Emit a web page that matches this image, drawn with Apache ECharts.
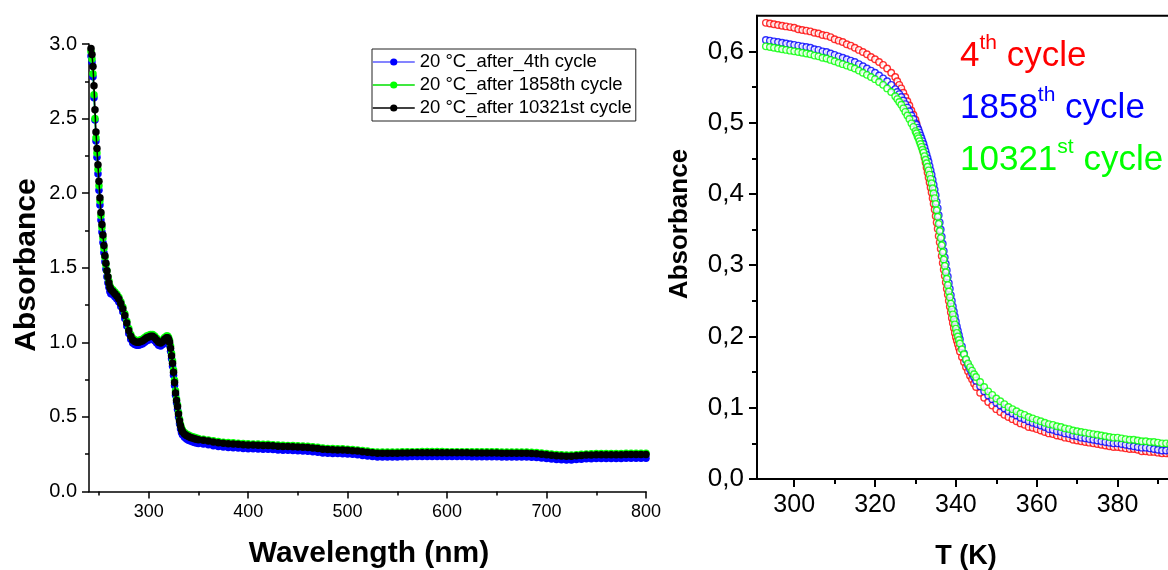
<!DOCTYPE html>
<html><head><meta charset="utf-8">
<script src="https://cdn.jsdelivr.net/npm/echarts@6/dist/echarts.min.js"></script>
<style>html,body{margin:0;padding:0;background:#fff}#c{width:1168px;height:570px}</style>
</head><body><div id="c"></div>
<script>
// ---------- Left panel: UV-vis spectra ----------
const wavelength = [242,243,244,245,246,247,248,249,250,251,252,253,254,255,256,257,258,259,260,261,262,
264,266,268,270,272,274,276,278,280,282,284,286,288,290,292,294,296,298,300,302,304,306,308,310,312,314,316,318,
319,320,321,322,323,324,325,326,327,328,329,330,331,332,333,334,
336,338,340,342,344,346,348,350,
355,360,365,370,375,380,385,390,395,400,
405,410,415,420,425,430,435,440,445,450,
455,460,465,470,475,480,485,490,495,500,
505,510,515,520,525,530,535,540,545,550,
555,560,565,570,575,580,585,590,595,600,
605,610,615,620,625,630,635,640,645,650,
655,660,665,670,675,680,685,690,695,700,
705,710,715,720,725,730,735,740,745,750,
755,760,765,770,775,780,785,790,795,800];

const absAfter4th = [2.92,2.88,2.78,2.64,2.49,2.35,2.24,2.13,2.02,1.92,1.82,1.74,1.67,1.60,1.54,1.49,1.44,1.40,1.37,1.34,1.325,
1.32,1.305,1.29,1.27,1.24,1.205,1.16,1.11,1.06,1.02,0.995,0.985,0.98,0.98,0.985,0.99,1.0,1.01,1.015,1.02,1.02,1.01,0.995,0.98,0.975,0.985,1.0,1.01,
1.01,1.0,0.98,0.94,0.89,0.84,0.78,0.71,0.645,0.595,0.55,0.50,0.455,0.42,0.395,0.38,
0.363,0.352,0.344,0.338,0.333,0.329,0.325,0.322,
0.318,0.313,0.307,0.302,0.298,0.295,0.293,0.291,0.289,0.287,
0.286,0.285,0.284,0.283,0.281,0.279,0.277,0.276,0.275,0.274,
0.272,0.270,0.267,0.263,0.258,0.256,0.255,0.254,0.253,0.251,
0.249,0.246,0.242,0.238,0.234,0.232,0.231,0.231,0.231,0.232,
0.233,0.233,0.234,0.234,0.235,0.235,0.235,0.235,0.235,0.234,
0.234,0.234,0.234,0.234,0.233,0.233,0.233,0.233,0.233,0.233,
0.232,0.232,0.232,0.232,0.231,0.231,0.230,0.228,0.225,0.222,
0.218,0.215,0.213,0.212,0.212,0.214,0.217,0.219,0.220,0.221,
0.221,0.222,0.222,0.222,0.222,0.223,0.223,0.223,0.223,0.223];

const absAfter1858th = [2.95,2.90,2.80,2.66,2.50,2.37,2.27,2.16,2.05,1.95,1.85,1.77,1.70,1.63,1.57,1.52,1.48,1.44,1.41,1.38,1.365,
1.352,1.337,1.322,1.302,1.272,1.237,1.192,1.142,1.092,1.052,1.027,1.017,1.012,1.012,1.017,1.022,1.032,1.042,1.047,1.052,1.052,1.042,1.027,1.012,1.007,1.017,1.032,1.042,
1.042,1.032,1.012,0.975,0.925,0.875,0.815,0.745,0.675,0.62,0.58,0.53,0.485,0.45,0.425,0.41,
0.395,0.385,0.378,0.372,0.367,0.363,0.359,0.356,
0.351,0.346,0.340,0.335,0.331,0.328,0.326,0.324,0.322,0.320,
0.319,0.318,0.317,0.316,0.314,0.312,0.310,0.309,0.308,0.307,
0.305,0.303,0.300,0.296,0.291,0.289,0.288,0.287,0.286,0.284,
0.282,0.279,0.275,0.271,0.267,0.265,0.264,0.264,0.264,0.265,
0.266,0.266,0.267,0.267,0.268,0.268,0.268,0.268,0.268,0.267,
0.267,0.267,0.267,0.267,0.266,0.266,0.266,0.266,0.266,0.266,
0.265,0.265,0.265,0.265,0.264,0.264,0.263,0.261,0.258,0.255,
0.251,0.248,0.246,0.245,0.245,0.247,0.250,0.252,0.253,0.254,
0.254,0.255,0.255,0.255,0.255,0.256,0.256,0.256,0.256,0.256];

const absAfter10321st = [2.97,2.93,2.85,2.72,2.56,2.41,2.30,2.19,2.08,1.97,1.87,1.79,1.72,1.65,1.58,1.53,1.48,1.44,1.40,1.37,1.355,
1.34,1.325,1.31,1.29,1.26,1.225,1.18,1.13,1.08,1.04,1.015,1.005,1.0,1.0,1.005,1.01,1.02,1.03,1.035,1.04,1.04,1.03,1.015,1.0,0.995,1.005,1.02,1.03,
1.03,1.02,1.0,0.96,0.91,0.86,0.80,0.73,0.66,0.61,0.57,0.52,0.475,0.44,0.415,0.40,
0.385,0.375,0.368,0.362,0.358,0.354,0.350,0.347,
0.343,0.338,0.332,0.327,0.323,0.320,0.318,0.316,0.314,0.312,
0.311,0.310,0.309,0.308,0.306,0.304,0.302,0.301,0.300,0.299,
0.297,0.295,0.292,0.288,0.283,0.281,0.280,0.279,0.278,0.276,
0.274,0.271,0.267,0.263,0.259,0.257,0.256,0.256,0.256,0.257,
0.258,0.258,0.259,0.259,0.260,0.260,0.260,0.260,0.260,0.259,
0.259,0.259,0.259,0.259,0.258,0.258,0.258,0.258,0.258,0.258,
0.257,0.257,0.257,0.257,0.256,0.256,0.255,0.253,0.250,0.247,
0.243,0.240,0.238,0.237,0.237,0.239,0.242,0.244,0.245,0.246,
0.246,0.247,0.247,0.247,0.247,0.248,0.248,0.248,0.248,0.248];

const leftSeriesNames = ['20 °C_after_4th cycle','20 °C_after 1858th cycle','20 °C_after 10321st cycle'];
const leftXTicks = [300,400,500,600,700,800];
const leftXMinor = [250,350,450,550,650,750];
const leftYTicks = [0,0.5,1.0,1.5,2.0,2.5,3.0];
const leftYMinor = [0.25,0.75,1.25,1.75,2.25,2.75];

// ---------- Right panel: absorbance vs temperature ----------
const tempK = [293,294,295,296,297,298,299,300,301,302,303,304,305,306,307,308,309,310,311,312,313,314,315,316,317,318,319,320,321,322,323,324,325,
325.5,326,326.5,327,327.5,328,328.5,329,329.5,330,
330.25,330.5,330.75,331,331.25,331.5,331.75,332,332.25,332.5,332.75,333,333.25,333.5,333.75,334,334.25,334.5,334.75,335,335.25,335.5,335.75,336,336.25,336.5,336.75,337,337.25,337.5,337.75,338,338.25,338.5,338.75,339,339.25,339.5,339.75,340,340.25,340.5,340.75,341,
341.5,342,342.5,343,343.5,344,344.5,345,
346,347,348,349,350,351,352,353,354,355,356,357,358,359,360,361,362,363,364,365,366,367,368,369,370,371,372,373,374,375,376,377,378,379,380,381,382,383,384,385,386,387,388,389,390,391,392,393];

const cycle4 = [.640,.639,.638,.637,.636,.635,.634,.633,.631,.630,.629,.628,.626,.625,.623,.622,.620,.617,.615,.613,.610,.608,.605,.602,.599,.596,.592,.589,.585,.581,.576,.570,.564,
.558,.553,.548,.542,.536,.530,.524,.517,.511,.504,
.499,.493,.488,.482,.476,.470,.464,.458,.451,.444,.437,.430,.423,.416,.409,.402,.394,.386,.378,.369,.360,.351,.341,.332,.323,.313,.303,.294,.285,.276,.267,.259,.250,.242,.234,.226,.219,.212,.205,.199,.194,.189,.184,.179,
.171,.164,.157,.151,.145,.140,.134,.129,
.121,.114,.108,.103,.098,.094,.090,.087,.084,.081,.078,.076,.073,.072,.070,.068,.066,.064,.063,.061,.060,.058,.057,.055,.054,.053,.052,.051,.050,.049,.048,.047,.046,.045,.045,.044,.043,.042,.042,.041,.039,.039,.038,.038,.037,.036,.036,.035];

const cycle1858 = [.616,.615,.614,.613,.612,.611,.610,.609,.608,.607,.606,.605,.603,.602,.600,.599,.597,.595,.593,.591,.589,.587,.585,.582,.579,.576,.573,.570,.566,.562,.558,.553,.547,
.543,.540,.536,.531,.526,.521,.516,.510,.505,.499,
.497,.493,.490,.486,.482,.478,.474,.470,.465,.460,.455,.450,.445,.439,.433,.427,.420,.413,.406,.398,.389,.380,.370,.360,.350,.340,.330,.320,.311,.302,.293,.284,.275,.267,.258,.250,.242,.235,.228,.221,.214,.208,.202,.196,
.186,.176,.167,.160,.154,.148,.143,.138,
.130,.123,.117,.112,.107,.103,.099,.095,.092,.089,.086,.084,.081,.079,.077,.075,.073,.070,.069,.067,.066,.064,.063,.061,.060,.058,.057,.056,.055,.054,.053,.052,.051,.050,.050,.049,.048,.047,.046,.045,.044,.044,.043,.042,.041,.040,.040,.039];

const cycle10321 = [.607,.606,.605,.604,.603,.602,.601,.600,.599,.598,.597,.596,.594,.593,.591,.590,.588,.586,.584,.582,.580,.578,.576,.573,.570,.567,.564,.561,.557,.553,.548,.543,.537,
.533,.529,.525,.520,.515,.510,.505,.499,.494,.488,
.485,.481,.478,.474,.470,.466,.462,.458,.453,.448,.443,.438,.433,.427,.421,.415,.408,.401,.394,.386,.377,.368,.358,.348,.338,.328,.318,.308,.299,.290,.281,.272,.263,.255,.246,.238,.231,.224,.217,.211,.205,.200,.195,.190,
.182,.175,.168,.162,.157,.152,.147,.143,
.136,.129,.123,.118,.113,.109,.105,.101,.098,.095,.092,.090,.087,.085,.083,.081,.079,.077,.076,.074,.073,.071,.070,.068,.067,.066,.065,.064,.063,.062,.061,.060,.059,.058,.058,.057,.056,.055,.055,.054,.053,.053,.052,.052,.051,.050,.050,.049];

const rightXTicks = [300,320,340,360,380,400];
const rightXMinor = [310,330,350,370,390];
const rightYTicks = [0,0.1,0.2,0.3,0.4,0.5,0.6];
const rightYMinor = [0.05,0.15,0.25,0.35,0.45,0.55];

// ---------- build ----------
const zip = (xs, ys) => xs.map((x, i) => [x, ys[i]]);
const FONT = '"Liberation Sans", Arial, sans-serif';
const BLACK = '#000';

function mainAxis(gridIndex, min, max, ticks, tickLen, lineW, fontSize, margin, fmt, extra) {
  return Object.assign({
    type: 'value', gridIndex, min, max,
    axisLine: { show: true, onZero: false, lineStyle: { color: BLACK, width: lineW } },
    axisTick: { show: true, inside: false, length: tickLen, customValues: ticks, lineStyle: { color: BLACK, width: lineW } },
    axisLabel: { show: true, customValues: ticks, color: BLACK, fontSize, fontFamily: FONT, margin, formatter: fmt, hideOverlap: false },
    splitLine: { show: false }, minorTick: { show: false }
  }, extra);
}
function minorAxis(gridIndex, min, max, ticks, tickLen, lineW, extra) {
  return Object.assign({
    type: 'value', gridIndex, min, max,
    axisLine: { show: false, onZero: false },
    axisTick: { show: true, inside: false, length: tickLen, customValues: ticks, lineStyle: { color: BLACK, width: lineW } },
    axisLabel: { show: false },
    splitLine: { show: false }
  }, extra);
}

const chart = echarts.init(document.getElementById('c'), null, { renderer: 'canvas' });

const cycleRich = (color) => ({
  n: { fontSize: 35, fontFamily: FONT, fill: color, lineHeight: 46 },
  s: { fontSize: 21, fontFamily: FONT, fill: color, lineHeight: 20, verticalAlign: 'top' }
});

const option = {
  animation: false,
  backgroundColor: '#fff',
  grid: [
    { left: 89, top: 44, width: 557, height: 447.5, containLabel: false, outerBoundsMode: 'none' },
    { left: 757, top: 15.7, width: 441.4, height: 463.3, containLabel: false, outerBoundsMode: 'none',
      show: true, borderColor: BLACK, borderWidth: 2, backgroundColor: 'transparent' }
  ],
  xAxis: [
    mainAxis(0, 240, 800, leftXTicks, 7, 1.5, 18, 12, v => String(v), { position: 'bottom' }),
    minorAxis(0, 240, 800, leftXMinor, 4, 1.5, { position: 'bottom' }),
    mainAxis(1, 290.8, 400, rightXTicks, 8, 2, 25, 14, v => String(v), { position: 'bottom' }),
    minorAxis(1, 290.8, 400, rightXMinor, 5, 2, { position: 'bottom' })
  ],
  yAxis: [
    mainAxis(0, 0, 3, leftYTicks, 7, 1.5, 20, 12, v => v.toFixed(1), { position: 'left' }),
    minorAxis(0, 0, 3, leftYMinor, 4, 1.5, { position: 'left' }),
    mainAxis(1, 0, 0.65, rightYTicks, 8, 2, 26, 13, v => v.toFixed(1).replace('.', ','), { position: 'left' }),
    minorAxis(1, 0, 0.65, rightYMinor, 5, 2, { position: 'left' })
  ],
  legend: {
    data: leftSeriesNames,
    orient: 'vertical',
    left: 372, top: 49,
    padding: [3, 4, 3, 0],
    itemGap: 3,
    itemWidth: 42,
    itemHeight: 9,
    borderColor: '#222', borderWidth: 1,
    textStyle: { fontSize: 18.5, fontFamily: FONT, color: BLACK, lineHeight: 20 },
    lineStyle: { width: 1.5 }
  },
  series: [
    { name: leftSeriesNames[0], type: 'line', xAxisIndex: 0, yAxisIndex: 0, data: zip(wavelength, absAfter4th),
      symbol: 'circle', symbolSize: 7.5, showAllSymbol: true,
      itemStyle: { color: '#0000ff' }, lineStyle: { color: '#5b5bff', width: 1.5 }, z: 2 },
    { name: leftSeriesNames[1], type: 'line', xAxisIndex: 0, yAxisIndex: 0, data: zip(wavelength, absAfter1858th),
      symbol: 'circle', symbolSize: 7.5, showAllSymbol: true,
      itemStyle: { color: '#00ff00' }, lineStyle: { color: '#00e000', width: 1.5 }, z: 3 },
    { name: leftSeriesNames[2], type: 'line', xAxisIndex: 0, yAxisIndex: 0, data: zip(wavelength, absAfter10321st),
      symbol: 'circle', symbolSize: 7.5, showAllSymbol: true,
      itemStyle: { color: '#000000' }, lineStyle: { color: '#000000', width: 1.5 }, z: 4 },
    { name: '4th cycle', type: 'scatter', xAxisIndex: 2, yAxisIndex: 2, data: zip(tempK, cycle4),
      symbol: 'circle', symbolSize: 6.5, itemStyle: { color: '#fff', borderColor: '#ff0000', borderWidth: 1.4 }, z: 2 },
    { name: '1858th cycle', type: 'scatter', xAxisIndex: 2, yAxisIndex: 2, data: zip(tempK, cycle1858),
      symbol: 'circle', symbolSize: 6.5, itemStyle: { color: '#fff', borderColor: '#0000ff', borderWidth: 1.4 }, z: 3 },
    { name: '10321st cycle', type: 'scatter', xAxisIndex: 2, yAxisIndex: 2, data: zip(tempK, cycle10321),
      symbol: 'circle', symbolSize: 6.5, itemStyle: { color: '#fff', borderColor: '#00ff00', borderWidth: 1.4 }, z: 4 }
  ],
  graphic: [
    { type: 'text', x: 27, y: 265, rotation: Math.PI / 2,
      style: { text: 'Absorbance', font: 'bold 30px ' + FONT, fill: BLACK, align: 'center', verticalAlign: 'middle' } },
    { type: 'text', x: 369, y: 554,
      style: { text: 'Wavelength (nm)', font: 'bold 30px ' + FONT, fill: BLACK, align: 'center', verticalAlign: 'middle' } },
    { type: 'text', x: 680, y: 224, rotation: Math.PI / 2,
      style: { text: 'Absorbance', font: 'bold 26px ' + FONT, fill: BLACK, align: 'center', verticalAlign: 'middle' } },
    { type: 'text', x: 966, y: 557,
      style: { text: 'T (K)', font: 'bold 27px ' + FONT, fill: BLACK, align: 'center', verticalAlign: 'middle' } },
    { type: 'text', x: 960, y: 56,
      style: { text: '{n|4}{s|th}{n| cycle}', fill: '#ff0000', align: 'left', verticalAlign: 'middle', rich: cycleRich('#ff0000') } },
    { type: 'text', x: 960, y: 108,
      style: { text: '{n|1858}{s|th}{n| cycle}', fill: '#0000ff', align: 'left', verticalAlign: 'middle', rich: cycleRich('#0000ff') } },
    { type: 'text', x: 960, y: 160,
      style: { text: '{n|10321}{s|st}{n| cycle}', fill: '#00ff00', align: 'left', verticalAlign: 'middle', rich: cycleRich('#00ff00') } }
  ]
};
chart.setOption(option);
</script>
</body></html>
